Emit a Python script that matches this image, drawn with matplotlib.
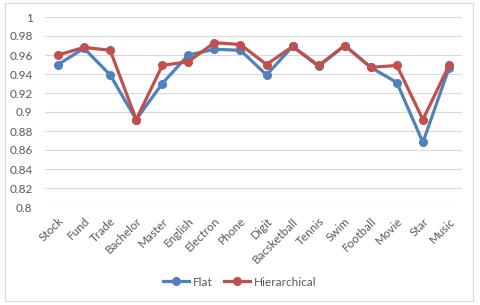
import matplotlib.pyplot as plt
from matplotlib.patches import Rectangle

categories = ["Stock", "Fund", "Trade", "Bachelor", "Master", "English", "Electron",
              "Phone", "Digit", "Bacsketball", "Tennis", "Swim", "Football",
              "Movie", "Star", "Music"]
flat = [0.950, 0.967, 0.939, 0.892, 0.930, 0.960, 0.966, 0.965, 0.939, 0.969,
        0.948, 0.970, 0.947, 0.931, 0.868, 0.946]
hierarchical = [0.960, 0.968, 0.965, 0.892, 0.949, 0.953, 0.973, 0.971, 0.950, 0.969,
                0.949, 0.970, 0.947, 0.949, 0.892, 0.949]
yticks = [0.8, 0.82, 0.84, 0.86, 0.88, 0.9, 0.92, 0.94, 0.96, 0.98, 1]
ytick_labels = ["0.8", "0.82", "0.84", "0.86", "0.88", "0.9", "0.92", "0.94", "0.96", "0.98", "1"]

plt.rcParams['font.family'] = ['Lato', 'DejaVu Sans']
text_color = "#595959"

fig = plt.figure(figsize=(4.8, 3.05), dpi=100)
# axes box: x 45..462 px, y 17..207 px
ax = fig.add_axes([45 / 480, 1 - 207 / 305, 417 / 480, 190 / 305])

x = list(range(len(categories)))
ax.plot(x, flat, color="#4F81BD", lw=2.3, marker="o", ms=5.5, label="Flat", zorder=3)
ax.plot(x, hierarchical, color="#C0504D", lw=2.3, marker="o", ms=5.5, label="Hierarchical", zorder=4)

ax.set_xlim(-0.5, len(categories) - 0.5)
ax.set_ylim(0.8, 1.0)
ax.set_yticks(yticks)
ax.set_yticklabels(ytick_labels)
ax.set_xticks(x)
ax.set_xticklabels(categories, rotation=45, ha="right", rotation_mode="anchor")
ax.tick_params(axis="both", length=0, labelsize=8.5, colors=text_color)
ax.tick_params(axis="x", pad=6)
ax.tick_params(axis="y", pad=9)
ax.grid(axis="y", color="#D9D9D9", lw=0.8)
ax.set_axisbelow(True)
for s in ax.spines.values():
    s.set_visible(False)

leg = fig.legend(loc="center", bbox_to_anchor=(0.5, 1 - 282 / 305), ncol=2, frameon=False,
                 fontsize=8.5, handlelength=2.2, handletextpad=0.3, columnspacing=1.0)
for t in leg.get_texts():
    t.set_color(text_color)

# outer chart frame
fig.patches.append(Rectangle((5 / 480, 1 - 301 / 305), 468 / 480, 298 / 305,
                             transform=fig.transFigure, fill=False,
                             edgecolor="#D9D9D9", lw=0.8))

fig.savefig("out.png", dpi=100)
